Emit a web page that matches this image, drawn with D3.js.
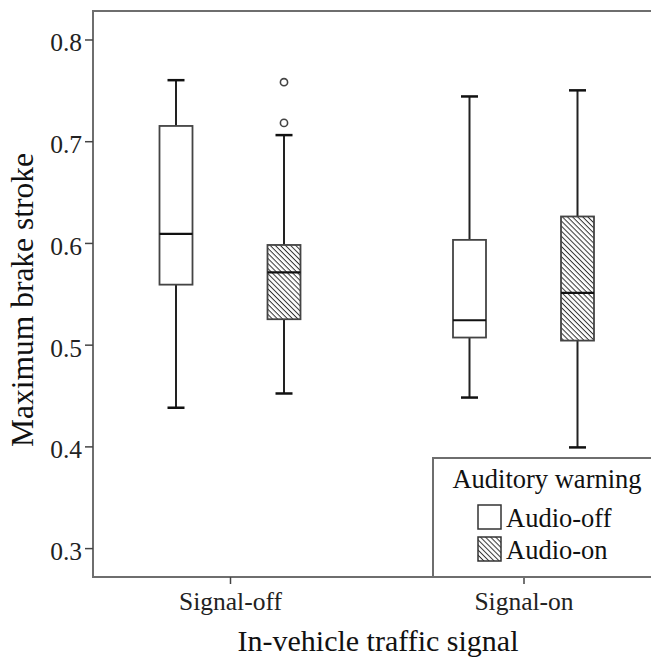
<!DOCTYPE html>
<html>
<head>
<meta charset="utf-8">
<script src="https://cdn.jsdelivr.net/npm/d3@7"></script>
<style>
  html, body { margin: 0; padding: 0; background: #fff; }
  svg text { font-family: "Liberation Serif", "Times New Roman", "DejaVu Serif", serif; }
</style>
</head>
<body>
<svg id="chart" width="651" height="659"></svg>
<script>
// Groups and series
const categories = ["Signal-off", "Signal-on"];
const warnings = ["Audio-off", "Audio-on"];

// Box statistics per category: [lower whisker, Q1, median, Q3, upper whisker]
const audioOffStats = [
  [0.438, 0.559, 0.609, 0.715, 0.760],
  [0.448, 0.507, 0.524, 0.603, 0.744]
];
const audioOnStats = [
  [0.452, 0.525, 0.571, 0.598, 0.706],
  [0.399, 0.504, 0.551, 0.626, 0.750]
];
// Outlying points: [category, warning, value]
const outliers = [
  ["Signal-off", "Audio-on", 0.718],
  ["Signal-off", "Audio-on", 0.758]
];
const yTicks = [0.3, 0.4, 0.5, 0.6, 0.7, 0.8];

const svg = d3.select("#chart");
const plot = { left: 93, top: 11, bottom: 577, right: 660 };

const y = d3.scaleLinear().domain([0.2716, 0.828]).range([plot.bottom, plot.top]);
const x = d3.scalePoint().domain(categories).range([230, 523.5]);
const sub = d3.scalePoint().domain(warnings).range([-54, 54]);
const boxW = 33, capW = 17;

// hatch pattern for Audio-on
const defs = svg.append("defs");
const pat = defs.append("pattern")
  .attr("id", "hatch")
  .attr("patternUnits", "userSpaceOnUse")
  .attr("width", 3.6).attr("height", 3.6)
  .attr("patternTransform", "rotate(45)");
pat.append("rect").attr("width", 3.6).attr("height", 3.6).attr("fill", "#fff");
pat.append("line").attr("x1", 0).attr("x2", 3.6).attr("y1", 0.5).attr("y2", 0.5)
  .attr("stroke", "#333").attr("stroke-width", 1);

const fillFor = w => w === "Audio-on" ? "url(#hatch)" : "#fff";

// frame
svg.append("path")
  .attr("d", `M${plot.right},${plot.top}H${plot.left}V${plot.bottom}H${plot.right}`)
  .attr("fill", "none").attr("stroke", "#6e6e6e").attr("stroke-width", 2);

// y axis
const yAxis = svg.append("g").attr("transform", `translate(${plot.left},0)`)
  .call(d3.axisLeft(y).tickValues(yTicks).tickFormat(d3.format(".1f")).tickSize(8).tickPadding(3));
yAxis.attr("font-family", null).attr("font-size", null);
yAxis.select(".domain").remove();
yAxis.selectAll(".tick line").attr("stroke", "#444").attr("stroke-width", 1.5);
yAxis.selectAll(".tick text")
  .attr("font-size", 25.5).attr("fill", "#222").attr("dy", "0.45em");

// x axis
const xAxis = svg.append("g").attr("transform", `translate(0,${plot.bottom})`)
  .call(d3.axisBottom(x).tickSize(7).tickPadding(8));
xAxis.attr("font-family", null).attr("font-size", null);
xAxis.select(".domain").remove();
xAxis.selectAll(".tick line").attr("stroke", "#444").attr("stroke-width", 1.5);
xAxis.selectAll(".tick text")
  .attr("font-size", 25.5).attr("fill", "#222").attr("dy", "0.72em");

// boxes
const rows = [];
categories.forEach((c, i) => {
  rows.push({ cat: c, w: "Audio-off", s: audioOffStats[i] });
  rows.push({ cat: c, w: "Audio-on", s: audioOnStats[i] });
});

const g = svg.append("g");
rows.forEach(r => {
  const cx = x(r.cat) + sub(r.w);
  const [lo, q1, med, q3, hi] = r.s;
  // whiskers
  g.append("line").attr("x1", cx).attr("x2", cx).attr("y1", y(hi)).attr("y2", y(q3))
    .attr("stroke", "#222").attr("stroke-width", 2);
  g.append("line").attr("x1", cx).attr("x2", cx).attr("y1", y(q1)).attr("y2", y(lo))
    .attr("stroke", "#222").attr("stroke-width", 2);
  g.append("line").attr("x1", cx - capW / 2).attr("x2", cx + capW / 2).attr("y1", y(hi)).attr("y2", y(hi))
    .attr("stroke", "#111").attr("stroke-width", 2.5);
  g.append("line").attr("x1", cx - capW / 2).attr("x2", cx + capW / 2).attr("y1", y(lo)).attr("y2", y(lo))
    .attr("stroke", "#111").attr("stroke-width", 2.5);
  // box
  g.append("rect").attr("x", cx - boxW / 2).attr("width", boxW)
    .attr("y", y(q3)).attr("height", y(q1) - y(q3))
    .attr("fill", fillFor(r.w)).attr("stroke", "#444").attr("stroke-width", 1.8);
  // median
  g.append("line").attr("x1", cx - boxW / 2).attr("x2", cx + boxW / 2).attr("y1", y(med)).attr("y2", y(med))
    .attr("stroke", "#111").attr("stroke-width", 2.2);
});

// outliers
g.selectAll("circle.out").data(outliers).join("circle")
  .attr("class", "out")
  .attr("cx", d => x(d[0]) + sub(d[1]))
  .attr("cy", d => y(d[2]))
  .attr("r", 3.6)
  .attr("fill", "#fff").attr("stroke", "#444").attr("stroke-width", 1.6);

// axis titles
svg.append("text")
  .attr("x", 378).attr("y", 651)
  .attr("text-anchor", "middle").attr("font-size", 30).attr("fill", "#111")
  .text("In-vehicle traffic signal");
svg.append("text")
  .attr("transform", "translate(33,300) rotate(-90)")
  .attr("text-anchor", "middle").attr("font-size", 31.5).attr("fill", "#111")
  .text("Maximum brake stroke");

// legend
const leg = svg.append("g");
leg.append("rect").attr("x", 433).attr("y", 458).attr("width", 240).attr("height", 119)
  .attr("fill", "#fff").attr("stroke", "#6e6e6e").attr("stroke-width", 2);
leg.append("text").attr("x", 547).attr("y", 488).attr("text-anchor", "middle")
  .attr("font-size", 26.5).attr("fill", "#111").text("Auditory warning");
warnings.forEach((w, i) => {
  const top = 505 + i * 32;
  leg.append("rect").attr("x", 478).attr("y", top).attr("width", 23).attr("height", 24)
    .attr("fill", fillFor(w)).attr("stroke", "#333").attr("stroke-width", 1.5);
  leg.append("text").attr("x", 506).attr("y", top + 22)
    .attr("font-size", 26.5).attr("fill", "#111").text(w);
});
</script>
</body>
</html>
